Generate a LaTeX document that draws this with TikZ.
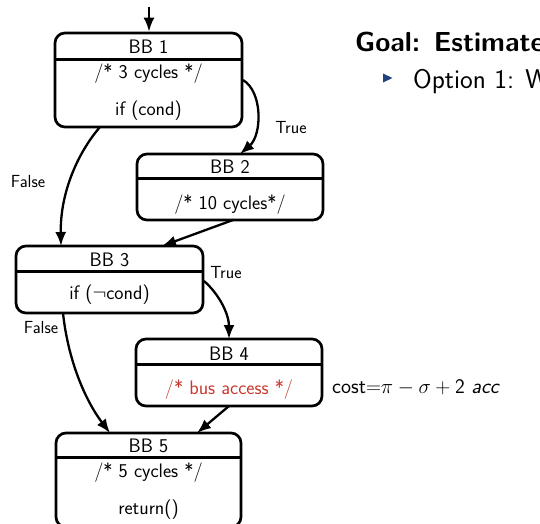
\documentclass[tikz,border=0pt]{standalone}
\usetikzlibrary{arrows.meta}
\definecolor{busred}{RGB}{200,55,45}
\definecolor{bulletblue}{RGB}{35,65,125}
\tikzset{
  bbox/.style={draw, line width=2.7pt, rounded corners=10pt, minimum width=187pt, inner sep=0pt},
  divline/.style={line width=2.7pt},
  txt/.style={font=\sffamily\fontsize{19.5}{23}\selectfont, inner sep=0pt},
  lbl/.style={font=\sffamily\fontsize{17.5}{21}\selectfont, inner sep=0pt},
  edge/.style={line width=2.3pt, -{Latex[length=14pt,width=11pt]}},
}
\begin{document}
\begin{tikzpicture}[x=1pt,y=-1pt]
\useasboundingbox (0,0) rectangle (540,523);
\clip (0,0) rectangle (540,523);
% boxes
\node[bbox, minimum height=94pt] (b1) at (148.5,80) {};
\node[bbox, minimum height=66pt, minimum width=186pt] (b2) at (230,187) {};
\node[bbox, minimum height=67pt] (b3) at (109.5,279.5) {};
\node[bbox, minimum height=67pt, minimum width=186pt] (b4) at (229,372.5) {};
\node[bbox, minimum height=94pt, minimum width=185pt] (b5) at (148.5,480) {};
% dividers
\draw[divline] (b1.north west) ++(0,28) -- ++(187,0);
\draw[divline] (b2.north west) ++(0,26) -- ++(186,0);
\draw[divline] (b3.north west) ++(0,27) -- ++(187,0);
\draw[divline] (b4.north west) ++(0,27) -- ++(186,0);
\draw[divline] (b5.north west) ++(0,26) -- ++(185,0);
% texts
\node[txt] (t1a) at (148.5,47) {BB 1};
\node[txt] (t1b) at (148.5,74) {/* 3 cycles */};
\node[txt] (t1c) at (148.5,111) {if (cond)};
\node[txt] (t2a) at (230,167) {BB 2};
\node[txt] (t2b) at (230,205) {/* 10 cycles*/};
\node[txt] (t3a) at (109.5,260) {BB 3};
\node[txt] (t3b) at (109.5,295) {if ($\neg$cond)};
\node[txt] (t4a) at (229,354) {BB 4};
\node[txt, text=busred] (t4b) at (229,390) {/* bus access */};
\node[txt] (t5a) at (148.5,446) {BB 5};
\node[txt] (t5b) at (148.5,473) {/* 5 cycles */};
\node[txt] (t5c) at (148.5,510) {return()};
% entry
\coordinate (start) at (149,7);
\draw[edge] (start) -- (b1.north -| start);
% edges
\coordinate (e12s) at (243,80);
\coordinate (e12e) at (240,154);
\draw[edge] (e12s) .. controls (263,92) and (262,135) .. (e12e);
\node[lbl] (l12) at (291,128) {True};
\coordinate (e13s) at (100,127);
\coordinate (e13e) at (61,246);
\draw[edge] (e13s) .. controls (80,150) and (60,190) .. (e13e);
\node[lbl] (l13) at (28,181) {False};
\coordinate (e23s) at (233,220);
\coordinate (e23e) at (162,246);
\draw[edge] (e23s) -- (e23e);
\coordinate (e34s) at (204,281);
\coordinate (e34e) at (229,339);
\draw[edge] (e34s) .. controls (220,295) and (229,315) .. (e34e);
\node[lbl] (l34) at (226,273) {True};
\coordinate (e35s) at (63,313);
\coordinate (e35e) at (110,433);
\draw[edge] (e35s) .. controls (68,360) and (85,400) .. (e35e);
\node[lbl] (l35) at (41,327) {False};
\coordinate (e45s) at (229,406);
\coordinate (e45e) at (197,433);
\draw[edge] (e45s) -- (e45e);
% right side text
\node[font=\sffamily\bfseries\fontsize{27.5}{33}\selectfont, inner sep=0pt, anchor=base west] (goal) at (355,51) {Goal: Estimate};
\fill[bulletblue] (383,73.5) -- (392.5,78) -- (383,82.5) -- cycle;
\node[font=\sffamily\fontsize{27}{32}\selectfont, inner sep=0pt, anchor=base west] (opt) at (413,88) {Option 1: W};
\node[font=\sffamily\fontsize{21.3}{25}\selectfont, inner sep=0pt, anchor=base west] (cost) at (332,393) {cost$\mathord{=}\pi-\sigma+\mathsf{2}$ \textit{acc}};
\end{tikzpicture}
\end{document}
